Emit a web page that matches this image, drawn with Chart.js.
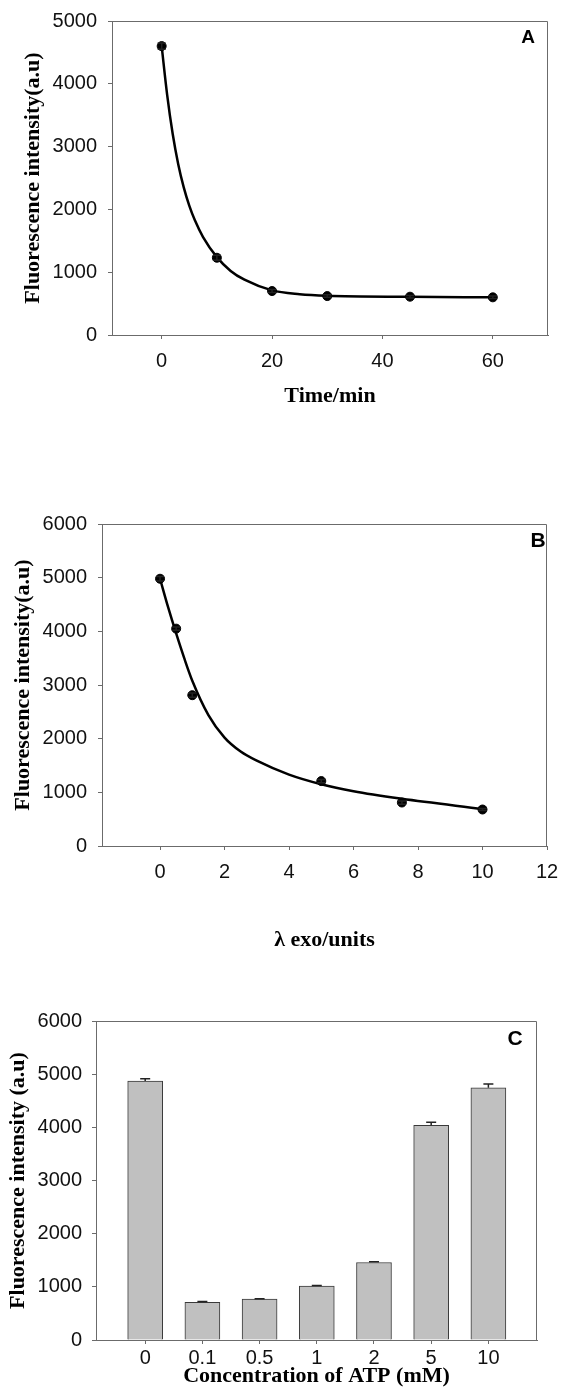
<!DOCTYPE html>
<html>
<head>
<meta charset="utf-8">
<script src="https://cdn.jsdelivr.net/npm/chart.js@4.4.1/dist/chart.umd.min.js"></script>
<style>
  html, body { margin: 0; padding: 0; background: #fff; overflow: hidden; }
  body { width: 561px; height: 1387px; position: relative; }
  .panel { position: absolute; left: 0; width: 561px; }
</style>
</head>
<body>
<div class="panel" style="top:0px;height:430px"><canvas id="chartA" width="561" height="430"></canvas></div>
<div class="panel" style="top:430px;height:530px"><canvas id="chartB" width="561" height="530"></canvas></div>
<div class="panel" style="top:960px;height:440px"><canvas id="chartC" width="561" height="440"></canvas></div>
<script>
// panel A - time course
const timeMin = [0, 10, 20, 30, 45, 60];
const intensityA = [4600, 1230, 700, 620, 610, 600];
const errA = [50, 40, 25, 20, 20, 20];
// fitted curve
const fitTimeA = [0, 1, 2, 3, 4, 5, 6, 7.5, 10, 12.5, 15, 20, 25, 30, 45, 60];
const fitA = [4600, 3820, 3200, 2720, 2350, 2060, 1830, 1560, 1240, 1020, 880, 710, 650, 625, 608, 600];
const xTicksA = [0, 20, 40, 60];

// panel B - lambda exo
const exoUnits = [0, 0.5, 1, 5, 7.5, 10];
const intensityB = [4980, 4050, 2810, 1210, 810, 680];
const errB = [40, 30, 40, 30, 30, 20];
const fitExoB = [0, 0.25, 0.5, 0.75, 1, 1.5, 2, 2.5, 3, 4, 5, 6, 7.5, 10];
const fitB = [4980, 4450, 3960, 3500, 3080, 2440, 2020, 1760, 1590, 1330, 1150, 1020, 880, 690];
const xTicksB = [0, 2, 4, 6, 8, 10, 12];

// panel C - ATP
const atpLabels = ['0', '0.1', '0.5', '1', '2', '5', '10'];
const intensityC = [4870, 710, 768, 1012, 1458, 4040, 4745];
const errC = [45, 15, 8, 15, 15, 55, 70];

const axisColor = '#6b6b6b';
const titleFont = { family: 'Liberation Serif', size: 22, weight: 'bold' };
const tickFont = { family: 'Liberation Sans', size: 20 };

Chart.defaults.color = '#111';
Chart.defaults.animation = false;

function frame() {
  return {
    id: 'frame',
    afterDraw(chart) {
      const { ctx, chartArea: a } = chart;
      ctx.save();
      ctx.strokeStyle = axisColor;
      ctx.lineWidth = 1;
      ctx.beginPath();
      ctx.moveTo(a.left, a.top + 0.5);
      ctx.lineTo(a.right - 0.5, a.top + 0.5);
      ctx.lineTo(a.right - 0.5, a.bottom);
      ctx.stroke();
      ctx.restore();
    }
  };
}

function panelLabel(text, dx, dy, size) {
  return {
    id: 'panelLabel',
    afterDraw(chart) {
      const { ctx, chartArea: a } = chart;
      ctx.save();
      ctx.font = 'bold ' + size + 'px "Liberation Sans"';
      ctx.fillStyle = '#000';
      ctx.textAlign = 'center';
      ctx.textBaseline = 'middle';
      ctx.fillText(text, a.right - dx, a.top + dy);
      ctx.restore();
    }
  };
}

function errorBars(xs, ys, errs, upOnly, cap) {
  return {
    id: 'errorBars',
    afterDatasetsDraw(chart) {
      const { ctx, scales: { x, y } } = chart;
      ctx.save();
      ctx.strokeStyle = '#222';
      ctx.lineWidth = 1.5;
      xs.forEach((xv, i) => {
        const px = x.getPixelForValue(xv);
        const top = y.getPixelForValue(ys[i] + errs[i]);
        const bot = upOnly ? y.getPixelForValue(ys[i]) : y.getPixelForValue(ys[i] - errs[i]);
        ctx.beginPath();
        ctx.moveTo(px, bot);
        ctx.lineTo(px, top);
        ctx.moveTo(px - cap, top);
        ctx.lineTo(px + cap, top);
        if (!upOnly) {
          ctx.moveTo(px - cap, bot);
          ctx.lineTo(px + cap, bot);
        }
        ctx.stroke();
      });
      ctx.restore();
    }
  };
}

function xAxis(min, max, ticks, height, title, titlePad, tickPad, labelFn) {
  return {
    type: 'linear', min: min, max: max, offset: false,
    afterBuildTicks: s => { s.ticks = ticks.map(v => ({ value: v })); },
    afterFit: s => { s.height = height; s.paddingLeft = 0; s.paddingRight = 0; },
    grid: { drawOnChartArea: false, offset: false, tickLength: 4, color: axisColor },
    border: { color: axisColor, width: 1 },
    ticks: { padding: tickPad, font: tickFont, color: '#111', maxRotation: 0, autoSkip: false,
      callback: labelFn || (v => String(v)) },
    title: { display: true, text: title, font: titleFont, color: '#000', padding: { top: 0, bottom: titlePad } }
  };
}

function yAxis(max, width, title, titlePad, tickPad) {
  return {
    min: 0, max: max,
    afterFit: s => { s.width = width; s.paddingTop = 0; s.paddingBottom = 0; },
    grid: { drawOnChartArea: false, tickLength: 4, color: axisColor },
    border: { color: axisColor, width: 1 },
    ticks: { stepSize: 1000, padding: tickPad, font: tickFont, color: '#111', callback: v => String(v) },
    title: { display: true, text: title, font: titleFont, color: '#000', padding: { top: titlePad, bottom: 0 } }
  };
}

function toXY(xs, ys) {
  return xs.map((v, i) => ({ x: v, y: ys[i] }));
}

function curveChart(id, opts) {
  return new Chart(document.getElementById(id), {
    type: 'scatter',
    data: {
      datasets: [
        {
          type: 'line',
          data: toXY(opts.fitX, opts.fitY),
          borderColor: '#000',
          borderWidth: 2.5,
          pointRadius: 0,
          fill: false,
          cubicInterpolationMode: 'monotone'
        },
        {
          data: toXY(opts.xs, opts.ys),
          backgroundColor: '#000',
          borderColor: '#000',
          pointRadius: 4.5
        }
      ]
    },
    options: {
      responsive: false,
      devicePixelRatio: 1,
      layout: { padding: opts.padding },
      plugins: { legend: { display: false }, tooltip: { enabled: false } },
      scales: { x: opts.x, y: opts.y }
    },
    plugins: [errorBars(opts.xs, opts.ys, opts.errs, false, 4), frame(), opts.label]
  });
}

curveChart('chartA', {
  fitX: fitTimeA, fitY: fitA, xs: timeMin, ys: intensityA, errs: errA,
  padding: { top: 21, right: 13, left: 0, bottom: 0 },
  x: xAxis(-9, 70, xTicksA, 95, 'Time/min', 20, 10),
  y: yAxis(5000, 112, 'Fluorescence intensity(a.u)', 20, 11),
  label: panelLabel('A', 20, 17, 19)
});

curveChart('chartB', {
  fitX: fitExoB, fitY: fitB, xs: exoUnits, ys: intensityB, errs: errB,
  padding: { top: 94, right: 14, left: 0, bottom: 0 },
  x: xAxis(-1.8, 12, xTicksB, 114, 'λ exo/units', 6, 10),
  y: yAxis(6000, 102, 'Fluorescence intensity(a.u)', 10, 11),
  label: panelLabel('B', 9, 17, 21)
});

new Chart(document.getElementById('chartC'), {
  type: 'bar',
  data: {
    datasets: [{
      data: toXY(atpLabels.map((_, i) => i), intensityC),
      backgroundColor: '#c0c0c0',
      borderColor: '#3a3a3a',
      borderWidth: 1,
      barThickness: 35
    }]
  },
  options: {
    responsive: false,
    devicePixelRatio: 1,
    layout: { padding: { top: 61, right: 24, left: 0, bottom: 0 } },
    plugins: { legend: { display: false }, tooltip: { enabled: false } },
    scales: {
      x: xAxis(-0.86, 6.85, atpLabels.map((_, i) => i), 60, 'Concentration of ATP (mM)', 10, 2, v => atpLabels[v]),
      y: yAxis(6000, 96, 'Fluorescence intensity (a.u)', 5, 10)
    }
  },
  plugins: [errorBars(atpLabels.map((_, i) => i), intensityC, errC, true, 5), frame(), panelLabel('C', 22, 18, 21)]
});
</script>
</body>
</html>
